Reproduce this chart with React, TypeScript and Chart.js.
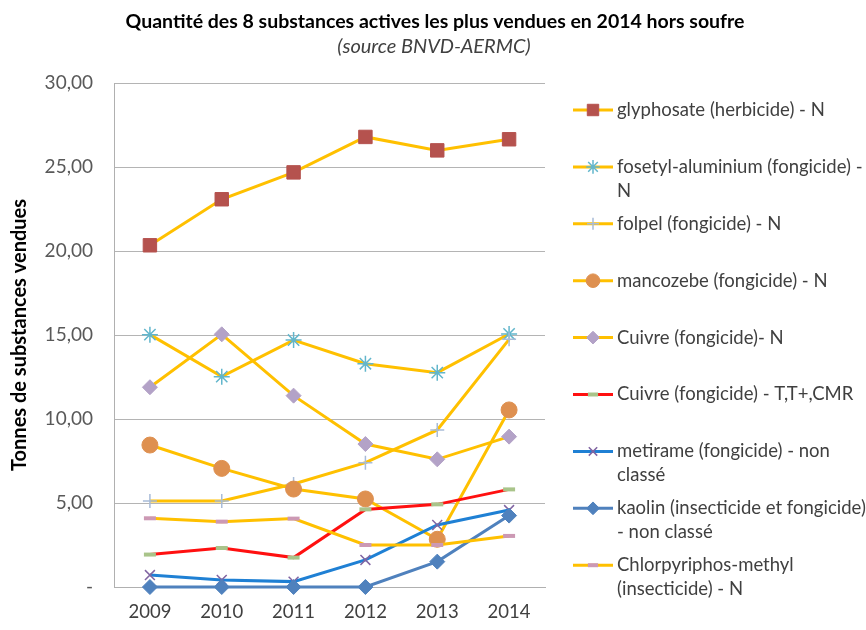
import React, { useEffect, useRef } from "react";
import { Chart, registerables } from "chart.js";
import { drawPoint } from "chart.js/helpers";

Chart.register(...registerables);

const FONT = "Lato, 'Open Sans', sans-serif";

const TITLE = "Quantité des 8 substances actives les plus vendues en 2014 hors soufre";
const SUBTITLE = "(source BNVD-AERMC)";
const Y_TITLE = "Tonnes de substances vendues";

const years = ["2009", "2010", "2011", "2012", "2013", "2014"];

const glyphosate = [20.34, 23.08, 24.68, 26.79, 25.99, 26.65];
const fosetyl = [15.02, 12.52, 14.7, 13.29, 12.76, 15.06];
const folpel = [5.12, 5.12, 6.13, 7.4, 9.35, 14.74];
const mancozebe = [8.45, 7.06, 5.83, 5.24, 2.84, 10.54];
const cuivreN = [11.89, 15.04, 11.39, 8.51, 7.6, 8.95];
const cuivreT = [1.93, 2.32, 1.75, 4.62, 4.92, 5.81];
const metirame = [0.71, 0.42, 0.32, 1.61, 3.69, 4.58];
const kaolin = [0.0, 0.0, 0.0, 0.0, 1.51, 4.25];
const chlorpyriphos = [4.09, 3.89, 4.07, 2.5, 2.5, 3.04];

const seriesNames: string[][] = [
  ["glyphosate (herbicide) - N"],
  ["fosetyl-aluminium (fongicide) -", "N"],
  ["folpel (fongicide) - N"],
  ["mancozebe (fongicide) - N"],
  ["Cuivre (fongicide)- N"],
  ["Cuivre (fongicide) - T,T+,CMR"],
  ["metirame (fongicide) - non", "classé"],
  ["kaolin (insecticide et fongicide)", "- non classé"],
  ["Chlorpyriphos-methyl", "(insecticide) - N"],
];

const seriesValues = [glyphosate, fosetyl, folpel, mancozebe, cuivreN, cuivreT, metirame, kaolin, chlorpyriphos];

const YELLOW = "#FFC000";
const styles = [
  { line: YELLOW, style: "rect", radius: 9.5, bg: "#B5524E", border: "#B5524E", bw: 1 },
  { line: YELLOW, style: "star", radius: 8, bg: "#62B6CC", border: "#62B6CC", bw: 1.5 },
  { line: YELLOW, style: "cross", radius: 7, bg: "#A8BCD8", border: "#A8BCD8", bw: 1.5 },
  { line: YELLOW, style: "circle", radius: 8, bg: "#DE9050", border: "#DE9050", bw: 1 },
  { line: YELLOW, style: "rectRot", radius: 7.5, bg: "#B3A2C7", border: "#B3A2C7", bw: 1 },
  { line: "#FF1010", style: "line", radius: 6, bg: "#A9C48A", border: "#A9C48A", bw: 4 },
  { line: "#1F80D4", style: "crossRot", radius: 7, bg: "#8064A2", border: "#8064A2", bw: 1.5 },
  { line: "#4F81BD", style: "rectRot", radius: 7.5, bg: "#4F81BD", border: "#4F81BD", bw: 1 },
  { line: YELLOW, style: "line", radius: 6, bg: "#CC99B4", border: "#CC99B4", bw: 4 },
];

const decorPlugin = {
  id: "decor",
  afterDraw(chart: any) {
    const ctx = chart.ctx as CanvasRenderingContext2D;
    const ca = chart.chartArea;
    ctx.save();
    ctx.textAlign = "center";
    ctx.textBaseline = "middle";
    ctx.fillStyle = "#000000";
    ctx.font = `bold 19.5px ${FONT}`;
    ctx.fillText(TITLE, 435, 22);
    ctx.fillStyle = "#404040";
    ctx.font = `italic 20px ${FONT}`;
    ctx.fillText(SUBTITLE, 434, 47);

    const x0 = ca.right + 28;
    const step = 56.9;
    const y0 = ca.top + 27;
    ctx.textAlign = "left";
    ctx.font = `18.5px ${FONT}`;
    seriesNames.forEach((lines, i) => {
      const s = styles[i];
      const y = y0 + i * step;
      ctx.strokeStyle = s.line;
      ctx.lineWidth = 3;
      ctx.beginPath();
      ctx.moveTo(x0, y);
      ctx.lineTo(x0 + 40, y);
      ctx.stroke();
      ctx.fillStyle = s.bg;
      ctx.strokeStyle = s.border;
      ctx.lineWidth = s.bw;
      drawPoint(ctx, { pointStyle: s.style as any, radius: s.radius * 0.85, borderWidth: s.bw, rotation: 0 }, x0 + 20, y);
      ctx.fillStyle = "#404040";
      lines.forEach((t, j) => {
        ctx.fillText(t, x0 + 44, y + j * 24);
      });
    });
    ctx.restore();
  },
};

export default function App() {
  const ref = useRef<HTMLCanvasElement | null>(null);
  useEffect(() => {
    if (!ref.current) return;
    const n = seriesValues.length;
    const chart = new Chart(ref.current, {
      type: "line",
      data: {
        labels: years,
        datasets: seriesValues.map((vals, i) => ({
          label: seriesNames[i].join(" "),
          data: vals,
          borderColor: styles[i].line,
          borderWidth: 3,
          pointStyle: styles[i].style as any,
          pointRadius: styles[i].radius,
          pointBackgroundColor: styles[i].bg,
          pointBorderColor: styles[i].border,
          pointBorderWidth: styles[i].bw,
          tension: 0,
          clip: false as any,
          order: n - i,
        })),
      },
      options: {
        responsive: false,
        animation: false,
        devicePixelRatio: 1,
        layout: { padding: { left: 0, top: 83, right: 321, bottom: 0 } },
        plugins: {
          legend: { display: false },
          title: { display: false },
          tooltip: { enabled: false },
        },
        scales: {
          x: {
            offset: true,
            grid: { display: false, drawTicks: false },
            border: { display: true, color: "#B0B0B0", width: 1 },
            ticks: { color: "#404040", font: { family: FONT, size: 18.5 }, padding: 14 },
            afterFit: (scale: any) => {
              scale.height = 43;
            },
          },
          y: {
            min: 0,
            max: 30,
            ticks: {
              stepSize: 5,
              color: "#595959",
              font: { family: FONT, size: 19 },
              padding: 21,
              callback: (v: any) => (Number(v) === 0 ? "-" : Number(v).toFixed(2).replace(".", ",")),
            },
            grid: { color: "#B4B4B4", lineWidth: 1, drawTicks: false },
            border: { display: true, color: "#B0B0B0", width: 1 },
            title: {
              display: true,
              text: Y_TITLE,
              color: "#000000",
              font: { family: FONT, size: 20, weight: "bold" },
              padding: { top: 8, bottom: 0 },
            },
            afterFit: (scale: any) => {
              scale.width = 114;
            },
          },
        },
      },
      plugins: [decorPlugin],
    });
    return () => chart.destroy();
  }, []);
  return (
    <div style={{ position: "absolute", left: 0, top: 0, width: 866, height: 630, background: "#fff" }}>
      <canvas ref={ref} width={866} height={630} />
    </div>
  );
}
